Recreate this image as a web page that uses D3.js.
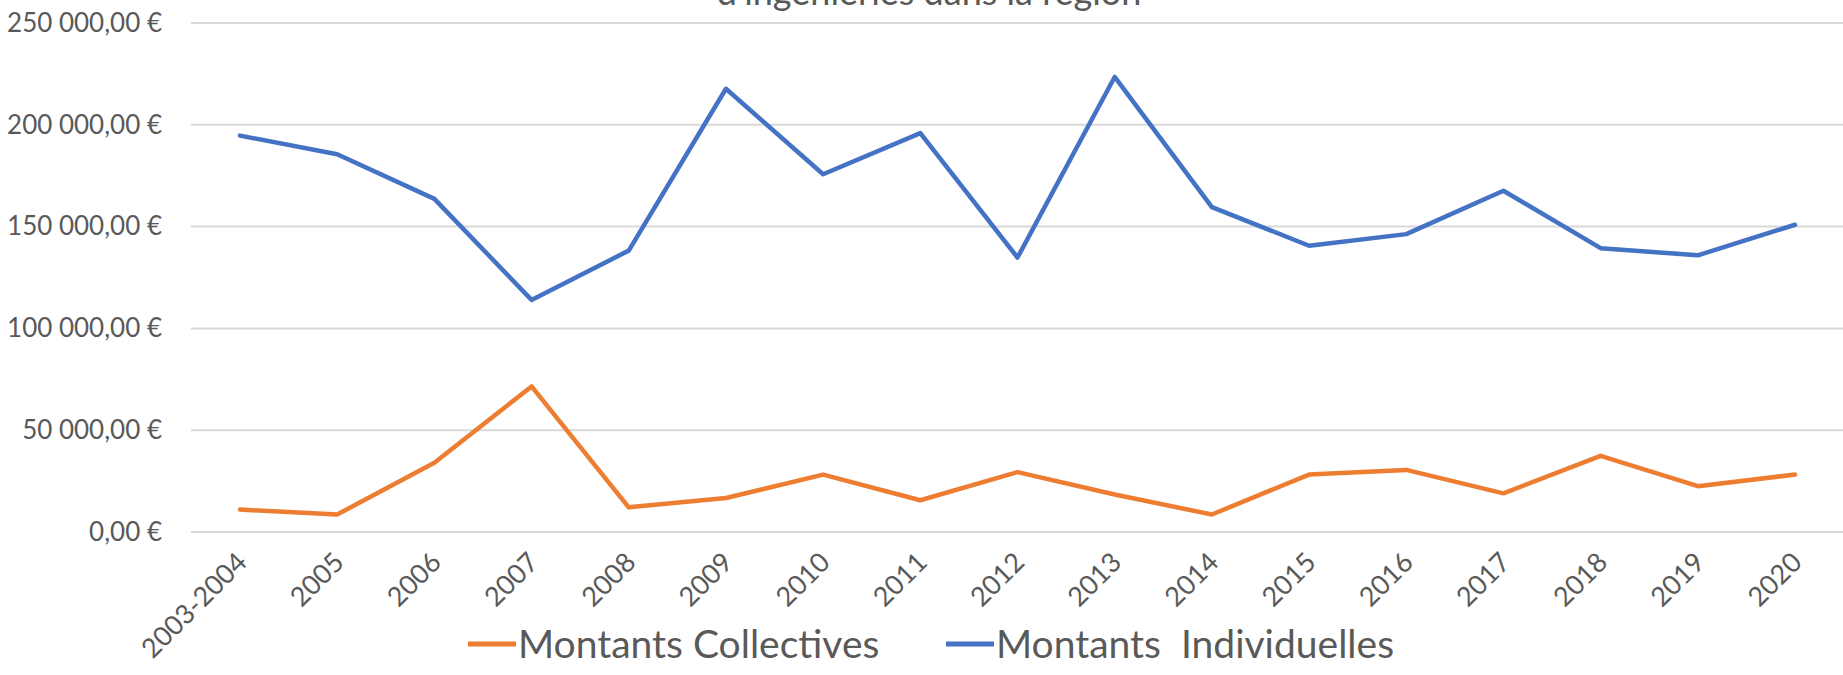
<!DOCTYPE html>
<html>
<head>
<meta charset="utf-8">
<script src="https://cdn.jsdelivr.net/npm/d3@7"></script>
<style>
  body { margin: 0; background: #fff; }
  svg { display: block; font-family: Lato, "Open Sans", sans-serif; }
  .grid line { stroke: #d9d9d9; stroke-width: 2; }
  .axis text { fill: #595959; }
</style>
</head>
<body>
<svg id="lineChart" width="1843" height="675"></svg>
<script>
// categories and series
var years = ["2003-2004", "2005", "2006", "2007", "2008", "2009", "2010", "2011", "2012",
  "2013", "2014", "2015", "2016", "2017", "2018", "2019", "2020"];

var collectives = [11000, 8600, 34000, 71500, 12100, 16700, 28200, 15600, 29400,
  18400, 8600, 28200, 30500, 19000, 37400, 22500, 28200];

var individuelles = [194700, 185500, 163600, 114000, 138200, 217700, 175700, 195900, 134800,
  223500, 159600, 140600, 146300, 167600, 139400, 135900, 150900];

var yTicks = [0, 50000, 100000, 150000, 200000, 250000];

var seriesNames = ["Montants Collectives", "Montants  Individuelles"];
var seriesColors = ["#ED7D31", "#4472C4"];

var svg = d3.select("#lineChart"),
  margin = {
    top: 23,
    left: 191,
    bottom: 143
  };

var width = +svg.attr("width");
var height = +svg.attr("height");

var x = d3.scalePoint().domain(years).range([240, 1795]),
  y = d3.scaleLinear().domain([0, 250000]).range([height - margin.bottom, margin.top]);

// french currency format: "250 000,00 €"
var fr = d3.formatLocale({
  decimal: ",",
  thousands: "\u00a0",
  grouping: [3],
  currency: ["", "\u00a0€"]
});
var fmt = fr.format("$,.2f");

// title (cut off at the top in the reference too)
svg.append("text")
  .attr("x", 929)
  .attr("y", 5)
  .attr("text-anchor", "middle")
  .attr("fill", "#595959")
  .attr("font-size", 36)
  .text("d'ingénieries dans la région");

// gridlines
svg.append("g")
  .attr("class", "grid")
  .selectAll("line")
  .data(yTicks)
  .enter().append("line")
  .attr("x1", margin.left)
  .attr("x2", width)
  .attr("y1", function(d) { return y(d); })
  .attr("y2", function(d) { return y(d); });

// y axis labels
var yAxis = svg.append("g")
  .attr("class", "axis axis--y")
  .attr("transform", "translate(" + margin.left + ",0)")
  .call(d3.axisLeft(y).tickValues(yTicks).tickFormat(fmt).tickSize(0).tickPadding(29));
yAxis.select(".domain").remove();
yAxis.selectAll("text").attr("font-size", 26).attr("font-family", "Lato");

// x axis labels, rotated
var xAxis = svg.append("g")
  .attr("class", "axis axis--x")
  .attr("transform", "translate(0," + y(0) + ")")
  .call(d3.axisBottom(x).tickSize(0));
xAxis.select(".domain").remove();
xAxis.selectAll("text")
  .attr("font-size", 27)
  .attr("font-family", "Lato")
  .style("text-anchor", "end")
  .attr("dx", 0)
  .attr("dy", 0)
  .attr("y", 0)
  .attr("transform", "translate(8,32) rotate(-45)");

// lines
var line = d3.line()
  .x(function(d, i) { return x(years[i]); })
  .y(function(d) { return y(d); });

[collectives, individuelles].forEach(function(s, i) {
  svg.append("path")
    .datum(s)
    .attr("fill", "none")
    .attr("stroke", seriesColors[i])
    .attr("stroke-width", 4.5)
    .attr("stroke-linejoin", "round")
    .attr("stroke-linecap", "round")
    .attr("d", line);
});

// legend
var legendX = [468, 946];
var legend = svg.append("g").attr("class", "legend");
seriesNames.forEach(function(name, i) {
  legend.append("line")
    .attr("x1", legendX[i])
    .attr("x2", legendX[i] + 48)
    .attr("y1", 644)
    .attr("y2", 644)
    .attr("stroke", seriesColors[i])
    .attr("stroke-width", 5);
  legend.append("text")
    .attr("x", legendX[i] + 50)
    .attr("y", 658)
    .attr("fill", "#595959")
    .attr("font-size", 39)
    .style("white-space", "pre")
    .text(name);
});
</script>
</body>
</html>
